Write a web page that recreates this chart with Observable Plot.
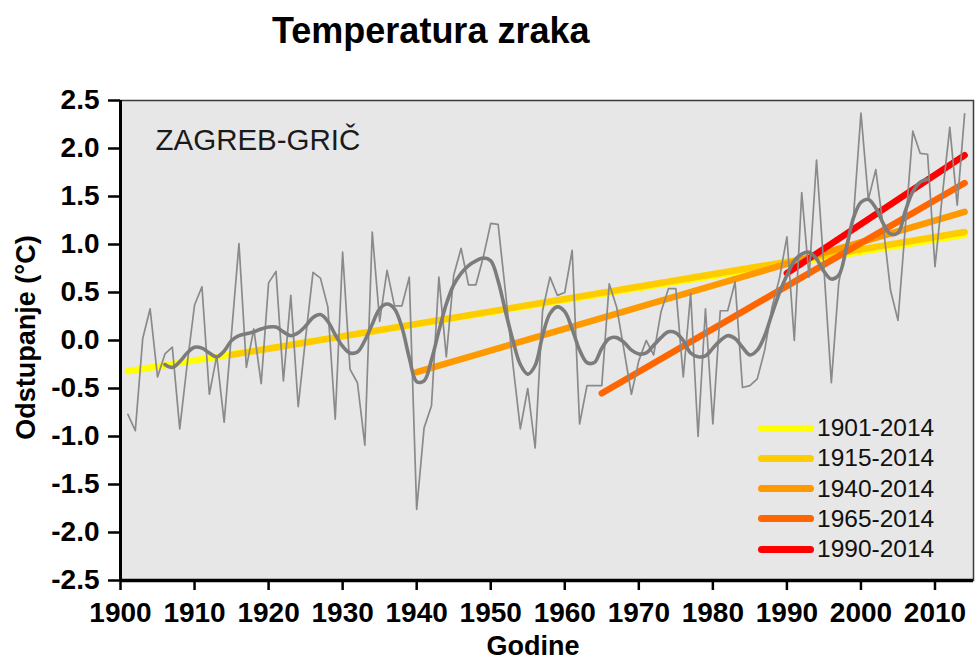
<!DOCTYPE html>
<html>
<head>
<meta charset="utf-8">
<script src="https://cdn.jsdelivr.net/npm/d3@7"></script>
<script src="https://cdn.jsdelivr.net/npm/@observablehq/plot@0.6"></script>
<style>
  html, body { margin: 0; padding: 0; background: #fff; }
  #wrap { position: relative; width: 979px; height: 662px; overflow: hidden; font-family: "Liberation Sans", Arial, sans-serif; }
  #title { position: absolute; left: 272px; top: 13px; font-size: 36px; font-weight: bold; line-height: 36px; color: #000; white-space: nowrap; }
  #legend { position: absolute; left: 758px; top: 413px; }
  .row { position: relative; height: 30.3px; }
  .sw { position: absolute; left: 0; top: 11.5px; width: 56px; height: 7px; border-radius: 3.5px; }
  .lb { position: absolute; left: 59px; top: 0; font-size: 24.5px; line-height: 30px; color: #111; white-space: nowrap; }
</style>
</head>
<body>
<div id="wrap">
  <div id="chart"></div>
  <div id="title">Temperatura zraka</div>
  <div id="legend"></div>
</div>
<script>
// ---- data ----
const years = d3.range(1901, 2015);
const anomaly = [
  -0.77, -0.94, 0.02, 0.33, -0.38, -0.14, -0.07, -0.92, -0.25, 0.37,
  0.56, -0.56, -0.16, -0.85, 0.08, 1.01, -0.28, 0.12, -0.45, 0.60,
  0.72, -0.42, 0.47, -0.69, 0.03, 0.71, 0.65, 0.35, -0.82, 0.92,
  -0.30, -0.44, -1.09, 1.13, 0.20, 0.73, 0.36, 0.36, 0.66, -1.76,
  -0.91, -0.68, 0.66, -0.17, 0.68, 0.96, 0.58, 0.58, 0.87, 1.22,
  1.21, 0.50, -0.25, -0.92, -0.50, -1.12, 0.31, 0.66, 0.47, 0.50,
  0.94, -0.87, -0.47, -0.47, -0.47, 0.59, 0.35, -0.10, -0.56, -0.21,
  0.00, -0.15, 0.30, 0.54, 0.54, -0.38, 0.49, -1.00, 0.33, -0.87,
  0.31, 0.31, 0.61, -0.49, -0.47, -0.40, -0.10, 0.35, 0.65, 1.08,
  0.00, 1.54, 0.66, 1.88, 0.75, -0.44, 0.60, 1.00, 1.30, 2.37,
  1.47, 1.78, 1.19, 0.52, 0.21, 1.19, 2.18, 1.95, 1.94, 0.77,
  1.52, 2.22, 1.41, 2.36
];
const smoothYears = d3.range(1906, 2010);
const smooth = [
  -0.25, -0.28, -0.22, -0.13, -0.07,
  -0.08, -0.13, -0.17, -0.11, 0.00, 0.05, 0.07, 0.09, 0.12, 0.14,
  0.14, 0.09, 0.05, 0.08, 0.15, 0.24, 0.27, 0.20, 0.06, -0.06,
  -0.13, -0.12, 0.00, 0.17, 0.33, 0.38, 0.33, 0.14, -0.18, -0.43,
  -0.42, -0.20, 0.10, 0.38, 0.58, 0.70, 0.78, 0.83, 0.86, 0.83,
  0.62, 0.30, 0.00, -0.25, -0.35, -0.26, 0.05, 0.28, 0.35, 0.30,
  0.12, -0.10, -0.23, -0.23, -0.08, 0.02, 0.03, -0.02, -0.10, -0.14,
  -0.13, -0.05, 0.03, 0.09, 0.08, 0.00, -0.13, -0.17, -0.16, -0.08,
  0.00, 0.05, 0.02, -0.07, -0.15, -0.10, 0.05, 0.28, 0.50, 0.68,
  0.83, 0.90, 0.92, 0.85, 0.72, 0.64, 0.68, 0.95, 1.28, 1.44,
  1.47, 1.38, 1.22, 1.11, 1.12, 1.35, 1.55, 1.65, 1.68
];
const trendLabels = ["1901-2014", "1915-2014", "1940-2014", "1965-2014", "1990-2014"];
const trendStartYear = [1901, 1915, 1940, 1965, 1990];
const trendEndYear = [2014, 2014, 2014, 2014, 2014];
const trendStartValue = [-0.32, -0.15, -0.33, -0.55, 0.70];
const trendEndValue = [1.10, 1.13, 1.34, 1.64, 1.93];
const trendColors = ["#ffff00", "#ffcc00", "#ff9900", "#ff6600", "#ff0000"];
const yTicks = [-2.5, -2.0, -1.5, -1.0, -0.5, 0.0, 0.5, 1.0, 1.5, 2.0, 2.5];
const xTicks = [1900, 1910, 1920, 1930, 1940, 1950, 1960, 1970, 1980, 1990, 2000, 2010];
const stationName = "ZAGREB-GRIČ";
const xTitle = "Godine";
const yTitle = "Odstupanje (°C)";

// ---- tables ----
const annual = years.map((y, i) => ({year: y, value: anomaly[i]}));
const smoothed = smoothYears.map((y, i) => ({year: y, value: smooth[i]}));
const trends = trendLabels.map((label, i) => [
  {year: trendStartYear[i], value: trendStartValue[i], label},
  {year: trendEndYear[i], value: trendEndValue[i], label}
]);

const font = '"Liberation Sans", Arial, sans-serif';

const chart = Plot.plot({
  width: 979,
  height: 662,
  marginTop: 100,
  marginLeft: 120,
  marginRight: 6,
  marginBottom: 82,
  style: {fontFamily: font, fontSize: "28px", fontWeight: "bold", color: "#000", background: "#fff"},
  x: {domain: [1900, 2015.2]},
  y: {domain: [-2.5, 2.5]},
  marks: [
    Plot.frame({fill: "#e7e7e7", stroke: null}),
    ...trends.map((t, i) => Plot.line(t, {
      x: "year", y: "value", stroke: trendColors[i], strokeWidth: 6.5, strokeLinecap: "round"
    })),
    Plot.line(annual, {x: "year", y: "value", stroke: "#8a8a8a", strokeWidth: 1.7}),
    Plot.line(smoothed, {x: "year", y: "value", stroke: "#7c7c7c", strokeWidth: 3.6, curve: "catmull-rom"}),
    Plot.frame({stroke: "#3a3a3a", strokeWidth: 1.5}),
    Plot.ruleX([1900], {stroke: "#000", strokeWidth: 3}),
    Plot.ruleY([-2.5], {stroke: "#000", strokeWidth: 3.5}),
    Plot.axisY({ticks: yTicks, tickFormat: d => d.toFixed(1), tickSize: 12, tickPadding: 9, strokeWidth: 2.5, label: null, fontSize: 28}),
    Plot.axisX({ticks: xTicks, tickFormat: d => String(d), tickSize: 10, tickPadding: 12, strokeWidth: 2.5, label: null, fontSize: 28}),
    Plot.text([stationName], {text: d => d, frameAnchor: "top-left", dx: 35, dy: 40, textAnchor: "start", lineAnchor: "middle", fontSize: 29.5, fontWeight: "normal", fill: "#1a1a1a"}),
    Plot.text([xTitle], {text: d => d, frameAnchor: "bottom", dx: -14, dy: 66, textAnchor: "middle", lineAnchor: "middle", fontSize: 27, fontWeight: "bold", fill: "#000"}),
    Plot.text([yTitle], {text: d => d, frameAnchor: "left", dx: -94, dy: -3, rotate: -90, textAnchor: "middle", lineAnchor: "middle", fontSize: 27, fontWeight: "bold", fill: "#000"})
  ]
});
document.getElementById("chart").appendChild(chart);

// ---- legend ----
const legend = document.getElementById("legend");
trendLabels.forEach((label, i) => {
  const row = document.createElement("div");
  row.className = "row";
  const sw = document.createElement("div");
  sw.className = "sw";
  sw.style.background = trendColors[i];
  const lb = document.createElement("div");
  lb.className = "lb";
  lb.textContent = label;
  row.appendChild(sw);
  row.appendChild(lb);
  legend.appendChild(row);
});
</script>
</body>
</html>
